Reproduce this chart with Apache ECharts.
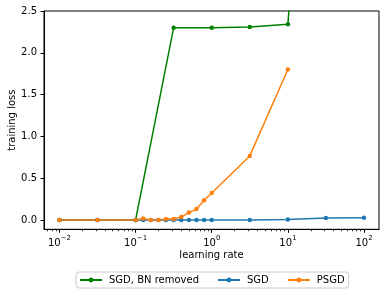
<!DOCTYPE html>
<html><head><meta charset="utf-8">
<script src="https://cdn.jsdelivr.net/npm/echarts@6/dist/echarts.min.js"></script>
<style>html,body{margin:0;padding:0;background:#fff}#c{width:389px;height:296px}</style>
</head><body><div id="c"></div>
<script>
const seriesNames = ['SGD, BN removed', 'SGD', 'PSGD'];
const lrGreen = [0.01, 0.0316, 0.1, 0.316, 1, 3.16, 10, 31.6, 100];
const lossGreen = [0, 0, 0, 2.30, 2.30, 2.31, 2.34, 8.5, 9.0];
const lrSGD = [0.01, 0.0316, 0.1, 0.126, 0.158, 0.2, 0.251, 0.316, 0.398, 0.501, 0.631, 0.794, 1, 3.16, 10, 31.6, 100];
const lossSGD = [0, 0, 0, 0, 0, 0, 0, 0, 0, 0, 0, 0, 0, 0, 0.004, 0.024, 0.025];
const lrPSGD = [0.01, 0.0316, 0.1, 0.126, 0.158, 0.2, 0.251, 0.316, 0.398, 0.501, 0.631, 0.794, 1, 3.16, 10];
const lossPSGD = [0, 0, 0, 0.016, 0, 0, 0.012, 0.012, 0.034, 0.088, 0.13, 0.236, 0.323, 0.766, 1.80];
const xMajorTicks = [0.01, 0.1, 1, 10, 100];
const xMinorTicks = [];
for (let k = -3; k <= 2; k++) for (let m = 2; m <= 9; m++) xMinorTicks.push(+(m * Math.pow(10, k)).toPrecision(3));
const yTicks = [0, 0.5, 1, 1.5, 2, 2.5];
const colors = ['#008000', '#1f77b4', '#ff7f0e'];

const zip = (a, b) => a.map((v, i) => [v, b[i]]);
const font = 'DejaVu Sans';
const xMin = 0.00626, xMax = 157.4;

const chart = echarts.init(document.getElementById('c'), null, {renderer: 'canvas'});
const mkSeries = (name, xs, ys, color) => ({
  name, type: 'line', data: zip(xs, ys), symbol: 'circle', symbolSize: 4.5,
  showSymbol: true, clip: true,
  lineStyle: {color, width: 1.5}, itemStyle: {color}, emphasis: {disabled: true}
});
chart.setOption({
  animation: false,
  textStyle: {fontFamily: font},
  grid: {left: 44, right: 10, top: 11, bottom: 66.7, show: true, borderColor: '#000', borderWidth: 1, containLabel: false, outerBoundsMode: 'none'},
  legend: {
    data: seriesNames, top: 272, left: 76, orient: 'horizontal',
    itemWidth: 22, itemHeight: 6, itemGap: 18,
    borderColor: '#ccc', borderWidth: 1, borderRadius: 3, padding: [3, 4, 3, 3],
    textStyle: {fontFamily: font, fontSize: 10, color: '#000', padding: [0, 0, 0, 2]}
  },
  xAxis: [{
    type: 'log', logBase: 10, min: xMin, max: xMax,
    name: 'learning rate', nameLocation: 'middle', nameGap: 21, nameMoveOverlap: false,
    nameTextStyle: {fontFamily: font, fontSize: 10, color: '#000'},
    axisLine: {show: true, onZero: false, lineStyle: {color: '#000', width: 1}},
    axisTick: {show: true, length: 3.5, inside: false, customValues: xMajorTicks, lineStyle: {color: '#000'}},
    axisLabel: {
      customValues: xMajorTicks, margin: 5, color: '#000',
      formatter: v => '{b|10}{s|' + String(Math.round(Math.log10(v))).replace('-', '\u2212') + '}',
      rich: {
        b: {fontFamily: font, fontSize: 10, color: '#000', lineHeight: 14, verticalAlign: 'bottom'},
        s: {fontFamily: font, fontSize: 7, color: '#000', lineHeight: 14, verticalAlign: 'top', padding: [0, 0, 6, 0]}
      }
    },
    splitLine: {show: false}
  }, {
    type: 'log', logBase: 10, min: xMin, max: xMax, position: 'bottom',
    axisLine: {show: false, onZero: false},
    axisTick: {show: true, length: 2, customValues: xMinorTicks, lineStyle: {color: '#000', width: 0.8}},
    axisLabel: {show: false}, splitLine: {show: false}
  }],
  yAxis: {
    type: 'value', min: -0.112, max: 2.5,
    name: 'training loss', nameLocation: 'middle', nameGap: 27, nameMoveOverlap: false,
    nameTextStyle: {fontFamily: font, fontSize: 10, color: '#000'},
    axisLine: {show: true, onZero: false, lineStyle: {color: '#000', width: 1}},
    axisTick: {show: true, length: 3.5, customValues: yTicks, lineStyle: {color: '#000'}},
    axisLabel: {customValues: yTicks, margin: 7, color: '#000', fontFamily: font, fontSize: 10, formatter: v => v.toFixed(1)},
    splitLine: {show: false}
  },
  series: [
    mkSeries(seriesNames[0], lrGreen, lossGreen, colors[0]),
    mkSeries(seriesNames[1], lrSGD, lossSGD, colors[1]),
    mkSeries(seriesNames[2], lrPSGD, lossPSGD, colors[2])
  ]
});
</script></body></html>
